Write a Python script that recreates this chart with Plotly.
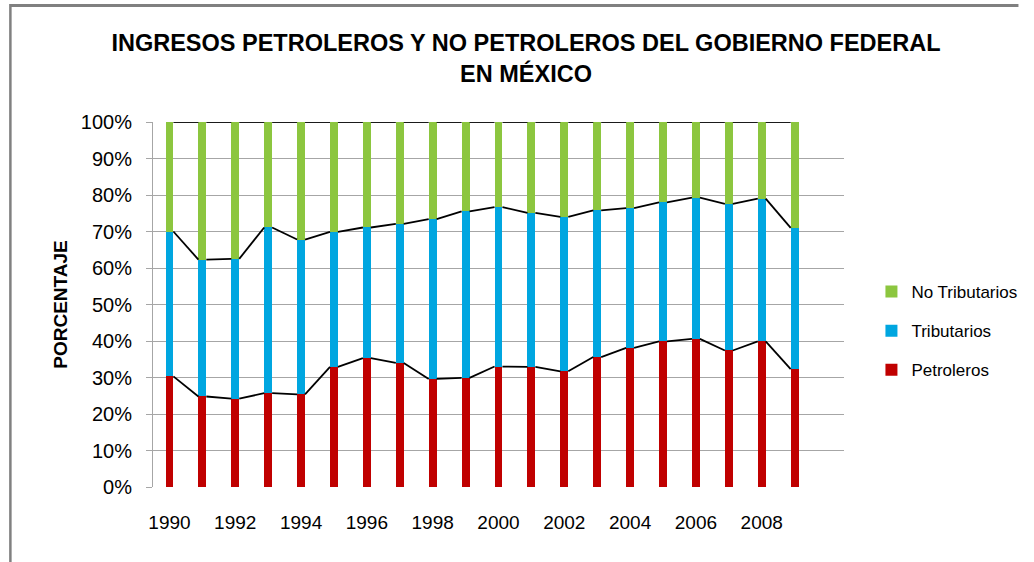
import plotly.graph_objects as go

years = list(range(1990, 2010))
petroleros = [30.3, 24.8, 24.2, 25.7, 25.4, 32.9, 35.3, 34.0, 29.6, 29.9,
              33.0, 32.9, 31.7, 35.6, 38.1, 39.9, 40.6, 37.4, 39.9, 32.3]
tributarios = [39.7, 37.5, 38.3, 45.4, 42.4, 37.0, 35.8, 38.1, 43.8, 45.6,
               43.7, 42.2, 42.3, 40.2, 38.3, 38.1, 38.7, 40.2, 39.1, 38.7]
no_tributarios = [30.0, 37.7, 37.5, 28.9, 32.2, 30.1, 28.9, 27.9, 26.6, 24.5,
                  23.3, 24.9, 26.0, 24.2, 23.6, 22.0, 20.7, 22.4, 21.0, 29.0]
series_names = ["Petroleros", "Tributarios", "No Tributarios"]
legend_ranks = [3, 2, 1]
colors = ["#C00000", "#00A6E0", "#8CC63F"]
x_ticks = list(range(1990, 2010, 2))
y_ticks = [i * 10 for i in range(11)]

BAR_W = 0.24
FONT = "Liberation Sans Narrow, Arial Narrow, Liberation Sans, Arial, sans-serif"

fig = go.Figure()
for name, vals, col, rk in zip(series_names, [petroleros, tributarios, no_tributarios], colors, legend_ranks):
    fig.add_trace(go.Bar(
        x=years, y=vals, name=name, width=BAR_W,
        marker=dict(color=col, line=dict(width=0)),
        legendgroup=name, legendrank=rk,
    ))

# Excel-style series lines connecting stack tops
cum = []
running = [0.0] * len(years)
for vals in [petroleros, tributarios, no_tributarios]:
    running = [r + v for r, v in zip(running, vals)]
    cum.append(running)

for level in cum:
    lx, ly = [], []
    for i in range(len(years) - 1):
        lx += [years[i] + BAR_W / 2, years[i + 1] - BAR_W / 2, None]
        ly += [level[i], level[i + 1], None]
    fig.add_trace(go.Scatter(x=lx, y=ly, mode="lines",
                             line=dict(color="black", width=1.8),
                             showlegend=False, hoverinfo="skip"))

L, R, T, B = 153, 176, 122, 75
W, H = 1034, 562
pw, ph = W - L - R, H - T - B

def px_x(p):
    return (p - L) / pw

def px_y(p):
    return (H - B - p) / ph

fig.update_layout(
    width=W, height=H,
    margin=dict(l=L, r=R, t=T, b=B),
    paper_bgcolor="white", plot_bgcolor="white",
    barmode="stack",
    font=dict(family=FONT, color="black"),
    title=dict(
        text="<b>INGRESOS PETROLEROS Y NO PETROLEROS DEL GOBIERNO FEDERAL<br>EN MÉXICO</b>",
        x=526 / W, xanchor="center", xref="container",
        y=1 - 51 / H, yanchor="top", yref="container",
        font=dict(size=23.5, family=FONT, color="black"),
    ),
    xaxis=dict(
        range=[1989.5, 2010.5], tickmode="array", tickvals=x_ticks,
        ticktext=[str(v) for v in x_ticks],
        showgrid=False, zeroline=False, showline=False,
        ticks="", ticklabelstandoff=22,
        tickfont=dict(size=19, family=FONT),
    ),
    yaxis=dict(
        range=[0, 100], tickmode="array", tickvals=y_ticks,
        ticktext=[f"{v}%" for v in y_ticks],
        showgrid=True, gridcolor="#A6A6A6", gridwidth=1,
        zeroline=False, showline=True, linecolor="#A6A6A6", linewidth=1,
        ticks="outside", ticklen=6, tickcolor="#A6A6A6",
        ticklabelstandoff=10,
        tickfont=dict(size=20, family=FONT),
        title=dict(text="<b>PORCENTAJE</b>", standoff=8,
                   font=dict(size=19, family=FONT)),
    ),
    legend=dict(
        x=px_x(886), y=px_y(331), xanchor="left", yanchor="middle",
        traceorder="grouped", tracegroupgap=14,
        itemwidth=30,
        font=dict(size=17, family=FONT),
        bgcolor="rgba(0,0,0,0)",
    ),
    shapes=[
        dict(type="line", xref="paper", yref="paper",
             x0=px_x(7), x1=px_x(W + 2), y0=px_y(5.5), y1=px_y(5.5),
             line=dict(color="#808080", width=3)),
        dict(type="line", xref="paper", yref="paper",
             x0=px_x(7.5), x1=px_x(7.5), y0=px_y(4), y1=px_y(H + 2),
             line=dict(color="#808080", width=2.5)),
    ],
    showlegend=True,
)

fig.write_html("out.html", config={"displayModeBar": False},
               post_script="document.body.style.margin='0';")
